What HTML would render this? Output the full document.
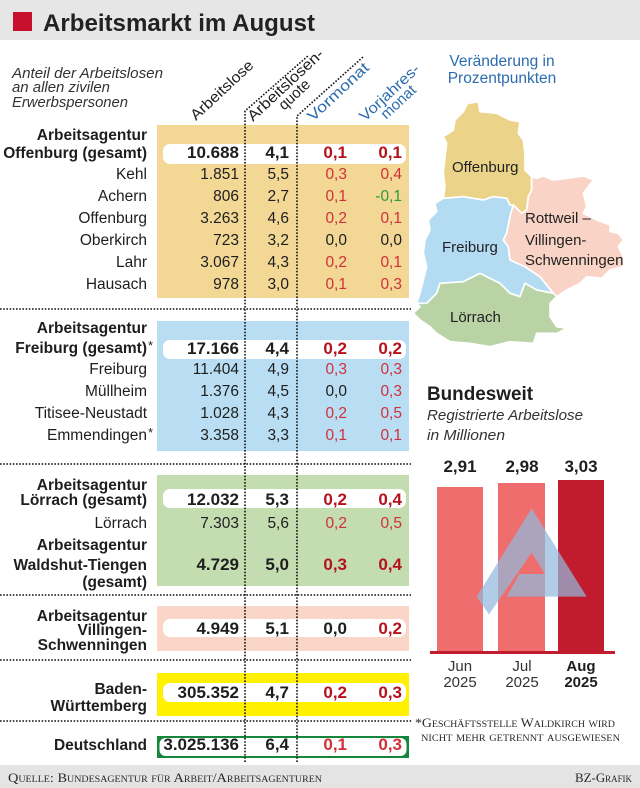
<!DOCTYPE html>
<html><head><meta charset="utf-8">
<style>
html,body{margin:0;padding:0;background:#fff;}
svg{display:block;font-family:"Liberation Sans",sans-serif;}
.lb{font-size:15.5px;fill:#1e1e1e;text-anchor:end;}
.b{font-weight:bold;}
.v{font-size:15.5px;fill:#1e1e1e;text-anchor:end;}
.vb{font-size:17px;font-weight:bold;fill:#1e1e1e;text-anchor:end;}
.r{fill:#d0303a;}
.rb{fill:#b5121d;}
.g{fill:#2e9a3e;}
.h{font-size:15px;fill:#1e1e1e;}
.hb{font-size:15px;fill:#2c6cae;}
.sc{font-family:"Liberation Serif",serif;font-variant:small-caps;fill:#2a2a2a;}
.dot{stroke:#111;stroke-width:1.6;stroke-dasharray:1.6 1.6;fill:none;}
</style></head>
<body>
<svg width="640" height="788" viewBox="0 0 640 788" xmlns="http://www.w3.org/2000/svg">
<!-- header -->
<rect x="0" y="0" width="640" height="40" fill="#e6e6e6"/>
<rect x="13" y="12" width="19" height="19" fill="#c8102e"/>
<text x="43" y="31" font-size="24" font-weight="bold" fill="#222" textLength="272" lengthAdjust="spacingAndGlyphs">Arbeitsmarkt im August</text>

<!-- left description -->
<g font-style="italic" font-size="15" fill="#333">
<text x="12" y="78" textLength="151" lengthAdjust="spacingAndGlyphs">Anteil der Arbeitslosen</text>
<text x="12" y="92" textLength="98" lengthAdjust="spacingAndGlyphs">an allen zivilen</text>
<text x="12" y="107" textLength="116" lengthAdjust="spacingAndGlyphs">Erwerbspersonen</text>
</g>

<!-- rotated column headers -->
<g transform="translate(196,121) rotate(-43)"><text class="h" x="0" y="0" textLength="80" lengthAdjust="spacingAndGlyphs">Arbeitslose</text></g>
<g transform="translate(288.8,88.6) rotate(-43)">
<text class="h" x="0" y="0" text-anchor="middle" textLength="98" lengthAdjust="spacingAndGlyphs">Arbeitslosen-</text>
<text class="h" x="0" y="13" text-anchor="middle" textLength="37" lengthAdjust="spacingAndGlyphs">quote</text></g>
<g transform="translate(313,122) rotate(-43)"><text class="hb" x="0" y="0" textLength="78" lengthAdjust="spacingAndGlyphs">Vormonat</text></g>
<g transform="translate(392.8,96.1) rotate(-43)">
<text class="hb" x="0" y="0" text-anchor="middle" textLength="76" lengthAdjust="spacingAndGlyphs">Vorjahres-</text>
<text class="hb" x="0" y="13" text-anchor="middle" textLength="42" lengthAdjust="spacingAndGlyphs">monat</text></g>

<!-- section boxes -->
<rect x="157" y="125" width="252" height="173" fill="#f2d795"/>
<rect x="163" y="144" width="243" height="20" rx="7" fill="#fff"/>
<rect x="157" y="321" width="252" height="130" fill="#b9def4"/>
<rect x="163" y="340" width="243" height="19" rx="7" fill="#fff"/>
<rect x="157" y="475" width="252" height="111" fill="#c3dcb0"/>
<rect x="163" y="489" width="243" height="19" rx="7" fill="#fff"/>
<rect x="157" y="606" width="252" height="45" fill="#fad6c8"/>
<rect x="163" y="619" width="243" height="18" rx="7" fill="#fff"/>
<rect x="157" y="673" width="252" height="43" fill="#fff100"/>
<rect x="163" y="683" width="243" height="19" rx="7" fill="#fff"/>
<rect x="157" y="736" width="252" height="22" fill="#16873a"/>
<rect x="159.5" y="738" width="247" height="18" rx="6" fill="#fff"/>

<!-- dotted lines -->
<path class="dot" d="M245,762 L245,111 L309,55"/>
<path class="dot" d="M297,762 L297,116 L363,57"/>
<path class="dot" d="M0,309 H411 M0,464 H411 M0,595 H411 M0,660 H411 M0,721 H412"/>

<!-- Offenburg -->
<text class="lb b" x="147" y="140">Arbeitsagentur</text>
<text class="lb b" x="147" y="158">Offenburg (gesamt)</text>
<text class="vb" x="239" y="158">10.688</text><text class="vb" x="289" y="158">4,1</text><text class="vb rb" x="347" y="158">0,1</text><text class="vb rb" x="402" y="158">0,1</text>
<text class="lb" x="147" y="179">Kehl</text><text class="v" x="239" y="179">1.851</text><text class="v" x="289" y="179">5,5</text><text class="v r" x="347" y="179">0,3</text><text class="v r" x="402" y="179">0,4</text>
<text class="lb" x="147" y="201">Achern</text><text class="v" x="239" y="201">806</text><text class="v" x="289" y="201">2,7</text><text class="v r" x="347" y="201">0,1</text><text class="v g" x="402" y="201">-0,1</text>
<text class="lb" x="147" y="223">Offenburg</text><text class="v" x="239" y="223">3.263</text><text class="v" x="289" y="223">4,6</text><text class="v r" x="347" y="223">0,2</text><text class="v r" x="402" y="223">0,1</text>
<text class="lb" x="147" y="245">Oberkirch</text><text class="v" x="239" y="245">723</text><text class="v" x="289" y="245">3,2</text><text class="v" x="347" y="245">0,0</text><text class="v" x="402" y="245">0,0</text>
<text class="lb" x="147" y="267">Lahr</text><text class="v" x="239" y="267">3.067</text><text class="v" x="289" y="267">4,3</text><text class="v r" x="347" y="267">0,2</text><text class="v r" x="402" y="267">0,1</text>
<text class="lb" x="147" y="289">Hausach</text><text class="v" x="239" y="289">978</text><text class="v" x="289" y="289">3,0</text><text class="v r" x="347" y="289">0,1</text><text class="v r" x="402" y="289">0,3</text>

<!-- Freiburg -->
<text class="lb b" x="147" y="333">Arbeitsagentur</text>
<text class="lb b" x="147" y="353">Freiburg (gesamt)</text><text x="148" y="350" font-size="13" fill="#1e1e1e">*</text>
<text class="vb" x="239" y="354">17.166</text><text class="vb" x="289" y="354">4,4</text><text class="vb rb" x="347" y="354">0,2</text><text class="vb rb" x="402" y="354">0,2</text>
<text class="lb" x="147" y="374">Freiburg</text><text class="v" x="239" y="374">11.404</text><text class="v" x="289" y="374">4,9</text><text class="v r" x="347" y="374">0,3</text><text class="v r" x="402" y="374">0,3</text>
<text class="lb" x="147" y="396">Müllheim</text><text class="v" x="239" y="396">1.376</text><text class="v" x="289" y="396">4,5</text><text class="v" x="347" y="396">0,0</text><text class="v r" x="402" y="396">0,3</text>
<text class="lb" x="147" y="418">Titisee-Neustadt</text><text class="v" x="239" y="418">1.028</text><text class="v" x="289" y="418">4,3</text><text class="v r" x="347" y="418">0,2</text><text class="v r" x="402" y="418">0,5</text>
<text class="lb" x="147" y="440">Emmendingen</text><text x="148" y="437" font-size="13" fill="#1e1e1e">*</text><text class="v" x="239" y="440">3.358</text><text class="v" x="289" y="440">3,3</text><text class="v r" x="347" y="440">0,1</text><text class="v r" x="402" y="440">0,1</text>

<!-- Lörrach -->
<text class="lb b" x="147" y="490">Arbeitsagentur</text>
<text class="lb b" x="147" y="505">Lörrach (gesamt)</text>
<text class="vb" x="239" y="505">12.032</text><text class="vb" x="289" y="505">5,3</text><text class="vb rb" x="347" y="505">0,2</text><text class="vb rb" x="402" y="505">0,4</text>
<text class="lb" x="147" y="528" fill="#444">Lörrach</text><text class="v" x="239" y="528">7.303</text><text class="v" x="289" y="528">5,6</text><text class="v r" x="347" y="528">0,2</text><text class="v r" x="402" y="528">0,5</text>
<text class="lb b" x="147" y="550">Arbeitsagentur</text>
<text class="lb b" x="147" y="570">Waldshut-Tiengen</text>
<text class="lb b" x="147" y="587">(gesamt)</text>
<text class="vb" x="239" y="570">4.729</text><text class="vb" x="289" y="570">5,0</text><text class="vb rb" x="347" y="570">0,3</text><text class="vb rb" x="402" y="570">0,4</text>

<!-- Villingen -->
<text class="lb b" x="147" y="621">Arbeitsagentur</text>
<text class="lb b" x="147" y="635">Villingen-</text>
<text class="lb b" x="147" y="650">Schwenningen</text>
<text class="vb" x="239" y="634">4.949</text><text class="vb" x="289" y="634">5,1</text><text class="vb" x="347" y="634">0,0</text><text class="vb rb" x="402" y="634">0,2</text>

<!-- BW -->
<text class="lb b" x="147" y="694">Baden-</text>
<text class="lb b" x="147" y="711">Württemberg</text>
<text class="vb" x="239" y="698">305.352</text><text class="vb" x="289" y="698">4,7</text><text class="vb rb" x="347" y="698">0,2</text><text class="vb rb" x="402" y="698">0,3</text>

<!-- Deutschland -->
<text class="lb b" x="147" y="750">Deutschland</text>
<text class="vb" x="239" y="750">3.025.136</text><text class="vb" x="289" y="750">6,4</text><text class="vb r" x="347" y="750">0,1</text><text class="vb r" x="402" y="750">0,3</text>

<!-- map -->
<text x="502" y="66" font-size="15.5" fill="#2c6cae" text-anchor="middle">Veränderung in</text>
<text x="502" y="83" font-size="15.5" fill="#2c6cae" text-anchor="middle">Prozentpunkten</text>
<g transform="translate(410,40) scale(0.33333)" stroke="#fff" stroke-width="5" stroke-linejoin="round">
<path fill="#ecd38a" d="M175,190 L205,185 L210,215 L260,220 L300,240 L330,245 L325,280 L340,300 L345,340 L345,390 L365,410 L365,450 L355,470 L350,510 L335,520 L310,495 L300,495 L290,475 L250,470 L220,480 L160,470 L100,475 L105,440 L100,400 L105,350 L110,310 L100,290 L130,270 L135,240 L160,215 L170,195 Z"/>
<path fill="#b3dcf3" d="M100,475 L160,470 L220,480 L250,470 L290,475 L300,495 L310,495 L300,530 L290,580 L280,600 L295,620 L300,660 L345,680 L390,710 L430,760 L380,750 L345,730 L330,770 L300,760 L270,730 L210,700 L160,725 L90,730 L80,760 L50,790 L20,790 L30,760 L40,720 L50,680 L40,640 L45,600 L60,570 L55,540 L80,515 L75,490 Z"/>
<path fill="#f9d3c5" d="M350,510 L355,470 L365,450 L365,410 L380,415 L400,408 L430,420 L470,415 L520,408 L550,420 L535,440 L520,460 L530,500 L520,520 L560,540 L600,555 L600,575 L625,580 L640,600 L625,620 L640,650 L640,680 L600,690 L575,715 L530,710 L510,730 L470,750 L440,770 L430,760 L390,710 L345,680 L300,660 L295,620 L280,600 L290,580 L300,530 L310,495 L335,520 Z"/>
<path fill="#b9d3a5" d="M20,790 L50,790 L80,760 L90,730 L160,725 L210,700 L270,730 L300,760 L330,770 L345,730 L380,750 L430,760 L440,770 L420,790 L420,830 L440,860 L470,865 L440,880 L380,880 L370,910 L300,905 L240,920 L180,910 L120,905 L80,880 L60,860 L30,840 L10,820 L30,800 Z"/>
</g>
<g font-size="15" fill="#222">
<text x="452" y="172">Offenburg</text>
<text x="442" y="252">Freiburg</text>
<text x="525" y="223">Rottweil –</text>
<text x="525" y="245">Villingen-</text>
<text x="525" y="265">Schwenningen</text>
<text x="450" y="322">Lörrach</text>
</g>

<!-- bar chart -->
<text x="427" y="400" font-size="19" font-weight="bold" fill="#1e1e1e" textLength="106" lengthAdjust="spacingAndGlyphs">Bundesweit</text>
<text x="427" y="420" font-size="15" font-style="italic" fill="#333" textLength="156" lengthAdjust="spacingAndGlyphs">Registrierte Arbeitslose</text>
<text x="427" y="440" font-size="15" font-style="italic" fill="#333" textLength="78" lengthAdjust="spacingAndGlyphs">in Millionen</text>
<rect x="437" y="487" width="46" height="166" fill="#ef6d6d"/>
<rect x="498" y="483" width="47" height="170" fill="#ef6d6d"/>
<rect x="558" y="480" width="46" height="173" fill="#c11b2e"/>
<g transform="translate(410,370) scale(0.33333)">
<path fill="#92b8dc" opacity="0.72" d="M365,415 L530,680 L290,680 L328,612 L405,612 L365,548 L237,733 L200,680 Z"/>
</g>
<rect x="430" y="651" width="185" height="3" fill="#c11b2e"/>
<g font-size="17" font-weight="bold" fill="#1e1e1e" text-anchor="middle">
<text x="460" y="472">2,91</text><text x="522" y="472">2,98</text><text x="581" y="472">3,03</text>
</g>
<g font-size="15" fill="#333" text-anchor="middle">
<text x="460" y="671">Jun</text><text x="460" y="687">2025</text>
<text x="522" y="671">Jul</text><text x="522" y="687">2025</text>
<text x="581" y="671" font-weight="bold" fill="#1e1e1e">Aug</text><text x="581" y="687" font-weight="bold" fill="#1e1e1e">2025</text>
</g>

<!-- footnote -->
<text class="sc" x="415" y="727" font-size="12.5" textLength="200" lengthAdjust="spacingAndGlyphs">*Geschäftsstelle Waldkirch wird</text>
<text class="sc" x="421" y="741" font-size="12.5" textLength="199" lengthAdjust="spacingAndGlyphs">nicht mehr getrennt ausgewiesen</text>

<!-- footer -->
<rect x="0" y="765" width="640" height="23" fill="#e4e4e4"/>
<text class="sc" x="8" y="782" font-size="13" textLength="314" lengthAdjust="spacingAndGlyphs">Quelle: Bundesagentur für Arbeit/Arbeitsagenturen</text>
<text class="sc" x="632" y="782" font-size="13" text-anchor="end" textLength="57" lengthAdjust="spacingAndGlyphs">BZ-Grafik</text>
</svg>
</body></html>
